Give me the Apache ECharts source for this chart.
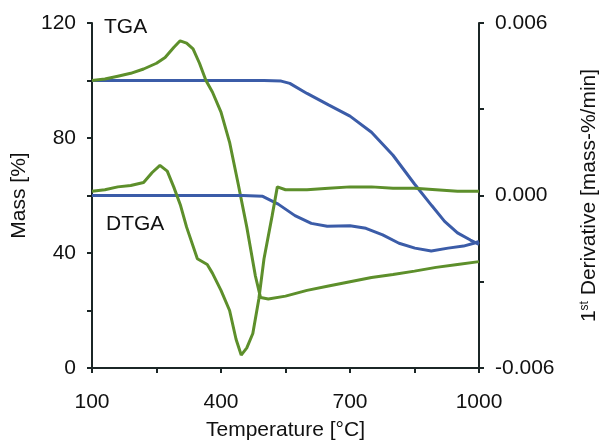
<!DOCTYPE html>
<html>
<head>
<meta charset="utf-8">
<script src="https://cdn.jsdelivr.net/npm/echarts@6/dist/echarts.min.js"></script>
<style>
html,body{margin:0;padding:0;background:#fff;}
#chart{width:608px;height:446px;}
</style>
</head>
<body>
<div id="chart"></div>
<script>
// ---- Data ----
// Upper blue curve: TGA, mass [%] (left axis)
const tgaBlueT = [100,150,200,250,300,350,400,450,500,540,560,600,650,700,750,800,850,890,920,950,980,1000];
const tgaBlueV = [100,100,100,100,100,100,100,100,100,99.8,99,95.5,91.5,87.6,82,74,64,56.5,51,47,44.5,43];

// Upper green curve: TGA, mass [%] (left axis)
const tgaGreenT = [100,130,160,190,220,250,270,290,305,320,335,350,365,380,400,420,440,460,480,492,510,550,600,650,700,750,800,850,900,950,1000];
const tgaGreenV = [100,100.5,101.5,102.5,104,106,108,111.5,113.8,113,111,106,100,96,89,78.5,64,49,32,24.5,24,25,27,28.5,30,31.5,32.5,33.7,35,36,37];

// Lower blue curve: DTGA, 1st derivative [mass-%/min] (right axis)
const dtgaBlueT = [100,200,300,400,450,497,533,572,610,647,700,737,776,814,851,889,928,964,990,1000];
const dtgaBlueV = [0,0,0,0,0,-0.00003,-0.0003,-0.0007,-0.00097,-0.00107,-0.00105,-0.00114,-0.00137,-0.00166,-0.00183,-0.00193,-0.00183,-0.00176,-0.00165,-0.0016];

// Lower green curve: DTGA, 1st derivative [mass-%/min] (right axis)
const dtgaGreenT = [100,130,160,190,220,240,258,275,290,306,320,345,368,380,400,420,435,447,460,474,488,500,519,531,550,600,650,700,750,800,850,900,950,1000];
const dtgaGreenV = [0.00015,0.0002,0.0003,0.00035,0.00045,0.0008,0.00105,0.00085,0.0003,-0.00035,-0.0011,-0.0022,-0.0024,-0.0027,-0.0033,-0.004,-0.005,-0.00555,-0.0053,-0.0048,-0.0036,-0.0022,-0.0007,0.0003,0.0002,0.0002,0.00025,0.0003,0.0003,0.00025,0.00025,0.0002,0.00015,0.00015];

// Axis ticks
const xMin = 100, xMax = 1000, xTickStep = 150, xLabelStep = 300;
const yMin = 0, yMax = 120, yTickStep = 20, yLabelStep = 40;
const dMin = -0.006, dMax = 0.006, dTickStep = 0.003;

const pair = (xs, ys) => xs.map((x, i) => [x, ys[i]]);

const BLUE = '#3b5ca8';
const GREEN = '#5d8f2b';
const AXIS = '#1b2626';
const FONT = "'Liberation Sans', Arial, sans-serif";
const FS = 21;

const chart = echarts.init(document.getElementById('chart'), null, {renderer: 'canvas'});

const axisCommon = {
  axisLine: {show: true, onZero: false, lineStyle: {color: AXIS, width: 2}},
  axisTick: {show: true, inside: false, length: 5, lineStyle: {color: AXIS, width: 2}},
  splitLine: {show: false},
  nameTextStyle: {fontFamily: FONT, fontSize: FS, color: '#111'}
};

chart.setOption({
  animation: false,
  backgroundColor: '#fff',
  grid: {left: 92, right: 119, top: 23, bottom: 75, containLabel: false},
  xAxis: Object.assign({}, axisCommon, {
    type: 'value', min: xMin, max: xMax, interval: xTickStep,
    name: 'Temperature [°C]', nameLocation: 'middle', nameGap: 52,
    axisLabel: {
      margin: 24, fontFamily: FONT, fontSize: FS, color: '#111',
      formatter: v => (Math.abs((v - xMin) % xLabelStep) < 1e-6 ? String(v) : '')
    }
  }),
  yAxis: [
    Object.assign({}, axisCommon, {
      type: 'value', position: 'left', min: yMin, max: yMax, interval: yTickStep,
      name: 'Mass [%]', nameLocation: 'middle', nameGap: 50, nameRotate: 90,
      axisLabel: {
        margin: 16, fontFamily: FONT, fontSize: FS, color: '#111',
        formatter: v => (v % yLabelStep === 0 ? String(v) : '')
      }
    }),
    Object.assign({}, axisCommon, {
      type: 'value', position: 'right', min: dMin, max: dMax, interval: dTickStep,
      name: '{n|1}{s|st}{n| Derivative [mass-%/min]}', nameLocation: 'middle', nameGap: 100, nameRotate: 90,
      nameTextStyle: {
        fontFamily: FONT, fontSize: FS, color: '#111',
        rich: {
          n: {fontFamily: FONT, fontSize: FS, color: '#111', verticalAlign: 'bottom'},
          s: {fontFamily: FONT, fontSize: 12, color: '#111', verticalAlign: 'top'}
        }
      },
      axisLabel: {
        margin: 16, fontFamily: FONT, fontSize: FS, color: '#111',
        formatter: v => (Math.round(v / dTickStep) % 2 === 0 ? (Math.abs(v) < 1e-9 ? '0.000' : v.toFixed(3)) : '')
      }
    })
  ],
  graphic: [
    {type: 'text', left: 104, top: 17, style: {text: 'TGA', fontFamily: FONT, fontSize: FS, fill: '#111'}},
    {type: 'text', left: 106, top: 214, style: {text: 'DTGA', fontFamily: FONT, fontSize: FS, fill: '#111'}}
  ],
  series: [
    {name: 'TGA blue', type: 'line', yAxisIndex: 0, data: pair(tgaBlueT, tgaBlueV), showSymbol: false, lineStyle: {color: BLUE, width: 3}, itemStyle: {color: BLUE}},
    {name: 'TGA green', type: 'line', yAxisIndex: 0, data: pair(tgaGreenT, tgaGreenV), showSymbol: false, lineStyle: {color: GREEN, width: 3}, itemStyle: {color: GREEN}},
    {name: 'DTGA blue', type: 'line', yAxisIndex: 1, data: pair(dtgaBlueT, dtgaBlueV), showSymbol: false, lineStyle: {color: BLUE, width: 3}, itemStyle: {color: BLUE}},
    {name: 'DTGA green', type: 'line', yAxisIndex: 1, data: pair(dtgaGreenT, dtgaGreenV), showSymbol: false, lineStyle: {color: GREEN, width: 3}, itemStyle: {color: GREEN}}
  ]
});
</script>
</body>
</html>
